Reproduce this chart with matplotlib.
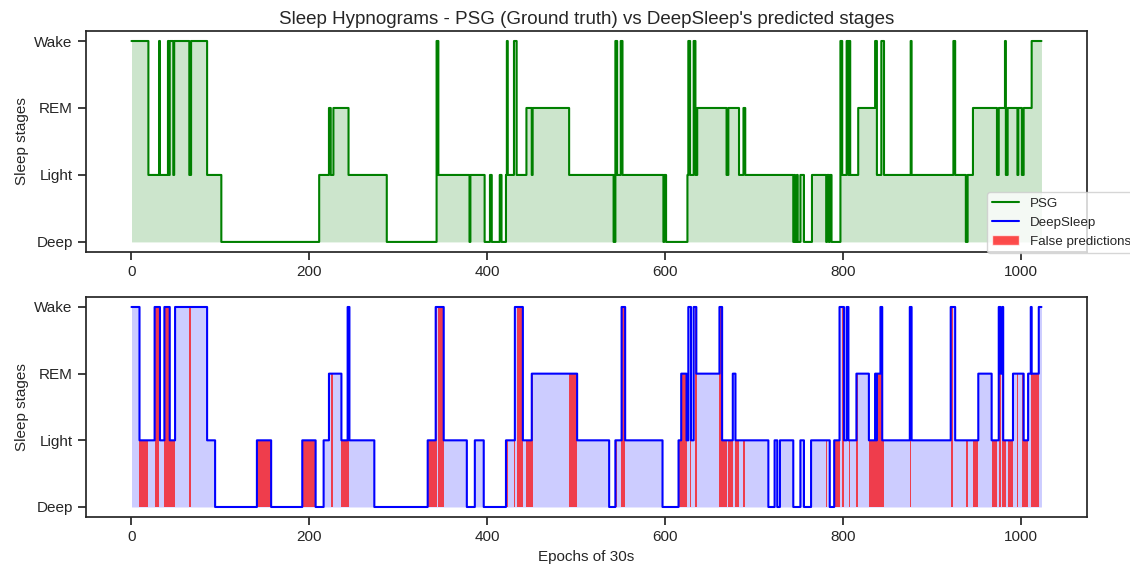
import numpy as np
import matplotlib
matplotlib.use('Agg')
import matplotlib.pyplot as plt
import seaborn as sns
from matplotlib.lines import Line2D
from matplotlib.patches import Patch

# Stage labels on the y axis (code 0..3)
stage_names = ['Deep', 'Light', 'REM', 'Wake']
code = {'D': 0, 'L': 1, 'R': 2, 'W': 3}

# Hypnograms: stage letter + epoch where the run ends
psg_stages = ['W', 'L', 'W', 'L', 'W', 'L', 'W', 'L', 'W', 'L', 'W', 'L', 'D', 'L', 'R', 'L', 'R', 'L',
              'D', 'W', 'L', 'D', 'L', 'D', 'L', 'D', 'L', 'D', 'L', 'W', 'L', 'W', 'L', 'R', 'L', 'R',
              'L', 'D', 'W', 'L', 'W', 'L', 'D', 'L', 'D', 'L', 'W', 'L', 'W', 'L', 'R', 'L', 'R', 'L',
              'R', 'L', 'D', 'L', 'D', 'L', 'D', 'L', 'D', 'L', 'D', 'L', 'D', 'L', 'D', 'W', 'L', 'W',
              'L', 'W', 'L', 'R', 'W', 'L', 'W', 'L', 'W', 'L', 'W', 'L', 'D', 'L', 'R', 'L', 'R', 'W',
              'L', 'R', 'L', 'R', 'L', 'R', 'W']
psg_ends = [19, 31, 32, 41, 42, 43, 47, 48, 65, 67, 85, 101, 211, 222, 224, 227, 244, 287,
            343, 345, 380, 381, 397, 403, 405, 414, 416, 421, 422, 423, 430, 433, 444, 450, 451, 492,
            542, 544, 546, 550, 552, 598, 599, 601, 625, 626, 628, 632, 634, 636, 669, 671, 683, 688,
            690, 744, 745, 746, 748, 749, 752, 756, 765, 781, 782, 784, 785, 787, 797, 799, 804, 806,
            807, 808, 817, 836, 838, 843, 846, 876, 877, 924, 926, 938, 940, 946, 973, 975, 982, 983,
            985, 996, 997, 1001, 1003, 1012, 1024]

pred_stages = ['W', 'L', 'W', 'L', 'W', 'L', 'W', 'L', 'D', 'L', 'D', 'L', 'D', 'L', 'R', 'L', 'W', 'L',
               'D', 'L', 'W', 'L', 'D', 'L', 'D', 'L', 'W', 'L', 'R', 'L', 'D', 'L', 'W', 'L', 'D', 'L',
               'R', 'L', 'W', 'L', 'W', 'R', 'W', 'L', 'R', 'L', 'D', 'L', 'D', 'L', 'D', 'L', 'D', 'L',
               'D', 'L', 'W', 'L', 'W', 'L', 'R', 'L', 'R', 'L', 'R', 'W', 'L', 'W', 'L', 'W', 'L', 'R',
               'L', 'W', 'R', 'W', 'L', 'R', 'L', 'R', 'W', 'R', 'W']
pred_ends = [9, 26, 32, 37, 43, 49, 85, 94, 141, 157, 192, 207, 216, 222, 236, 243, 245, 273,
             333, 342, 351, 377, 386, 396, 421, 431, 440, 450, 501, 537, 544, 551, 555, 597, 615, 618,
             624, 626, 629, 632, 635, 661, 664, 676, 679, 716, 723, 726, 729, 744, 752, 756, 764, 785,
             790, 796, 801, 804, 806, 815, 829, 836, 837, 838, 842, 844, 875, 877, 921, 926, 952, 967,
             975, 977, 979, 980, 991, 1003, 1008, 1011, 1012, 1020, 1024]


def expand(stages, ends):
    lengths = np.diff([0] + ends)
    return np.repeat([code[s] for s in stages], lengths)


y_true = expand(psg_stages, psg_ends)
y_pred = expand(pred_stages, pred_ends)
x = np.arange(len(y_true))

# mismatching epochs, widened by one so single-epoch errors still show with step='post'
wrong = y_true != y_pred
wrong_fill = wrong | np.concatenate([[False], wrong[:-1]])

sns.set_theme(style='ticks')
plt.rcParams['font.family'] = ['Liberation Sans', 'DejaVu Sans']

fig = plt.figure(figsize=(11.3, 5.67), dpi=100)
ax1 = fig.add_axes([0.0761, 0.5556, 0.8858, 0.3898])
ax2 = fig.add_axes([0.0761, 0.0882, 0.8858, 0.388])

# Top: ground truth
ax1.plot(x, y_true, color='green', lw=1.5, drawstyle='steps-post')
ax1.fill_between(x, 0, y_true, step='post', color='green', alpha=0.2, lw=0)
ax1.set_title("Sleep Hypnograms - PSG (Ground truth) vs DeepSleep's predicted stages",
              fontsize=13.5, pad=5)

# Bottom: predictions + false predictions
ax2.plot(x, y_pred, color='blue', lw=1.5, drawstyle='steps-post')
ax2.fill_between(x, 0, y_pred, step='post', color='blue', alpha=0.2, lw=0)
ax2.fill_between(x, 0, y_pred, where=wrong_fill, step='post', color='red', alpha=0.7, lw=0)
ax2.set_xlabel('Epochs of 30s', fontsize=11)

for ax in (ax1, ax2):
    ax.set_yticks(range(4))
    ax.set_yticklabels(stage_names)
    ax.set_ylabel('Sleep stages', fontsize=11)
    ax.tick_params(labelsize=11)

handles = [Line2D([], [], color='green', lw=1.5),
           Line2D([], [], color='blue', lw=1.5),
           Patch(facecolor='red', alpha=0.7)]
ax1.legend(handles, ['PSG', 'DeepSleep', 'False predictions'], loc='upper left',
           bbox_to_anchor=(0.9, 0.272), borderaxespad=0, fontsize=9.6)

fig.savefig('out.png', dpi=100)
